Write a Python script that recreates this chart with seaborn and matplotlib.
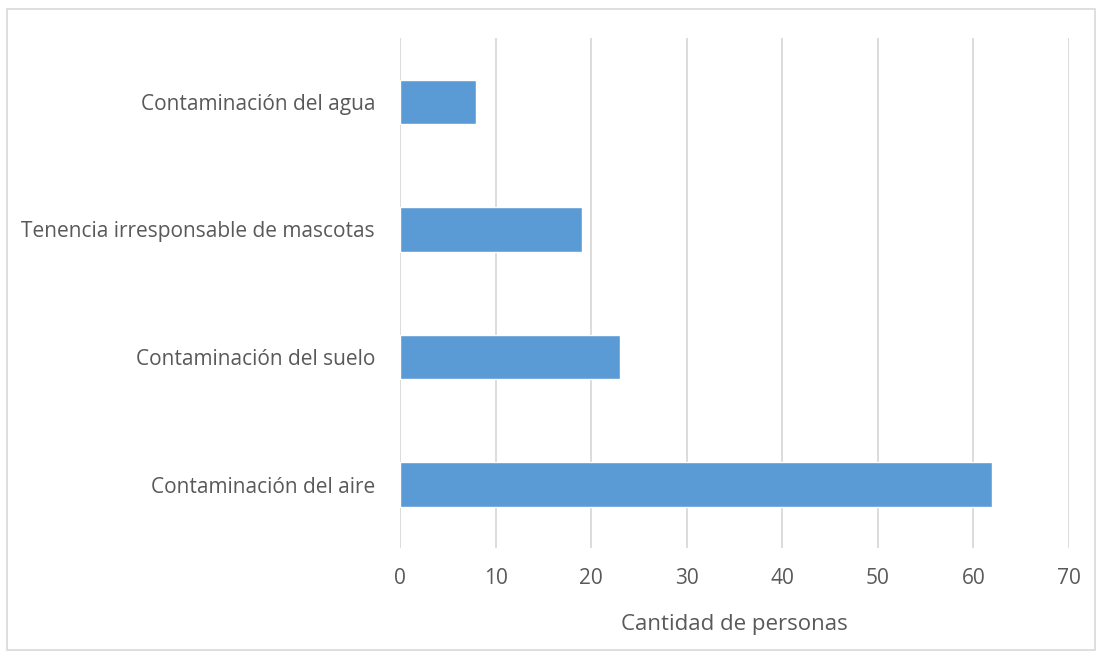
import matplotlib
matplotlib.use("Agg")
import matplotlib.pyplot as plt
import seaborn as sns
import pandas as pd
from matplotlib.patches import Rectangle

# Data
problemas = [
    "Contaminación del agua",
    "Tenencia irresponsable de mascotas",
    "Contaminación del suelo",
    "Contaminación del aire",
]
personas = [8, 19, 23, 62]
x_ticks = [0, 10, 20, 30, 40, 50, 60, 70]

df = pd.DataFrame({"problema": problemas, "personas": personas})

sns.set_theme(style="white")
plt.rcParams["font.family"] = ["Open Sans", "DejaVu Sans"]
text_color = "#595959"

fig = plt.figure(figsize=(11.02, 6.59), dpi=100)
ax = fig.add_axes([0.363, 0.168, 0.607, 0.774])

sns.barplot(data=df, x="personas", y="problema", orient="h",
            color="#5b9bd5", saturation=1, width=0.35, ax=ax)

ax.set_xlim(0, 70)
ax.set_ylim(3.5, -0.5)
ax.set_xticks(x_ticks)
ax.set_xticklabels([str(t) for t in x_ticks])
ax.grid(axis="x", color="#d9d9d9", linewidth=1.3)
ax.set_axisbelow(True)
for s in ax.spines.values():
    s.set_visible(False)
ax.tick_params(axis="both", length=0, colors=text_color, labelsize=15)
ax.tick_params(axis="x", pad=14)
ax.tick_params(axis="y", pad=18)
ax.set_ylabel("")
ax.set_xlabel("Cantidad de personas", fontsize=16, color=text_color, labelpad=18)

# outer chart border
fig.patches.append(Rectangle((0.0064, 0.0137), 0.987, 0.972, transform=fig.transFigure,
                             fill=False, edgecolor="#d9d9d9", linewidth=1.2))

fig.savefig("out.png", dpi=100)
